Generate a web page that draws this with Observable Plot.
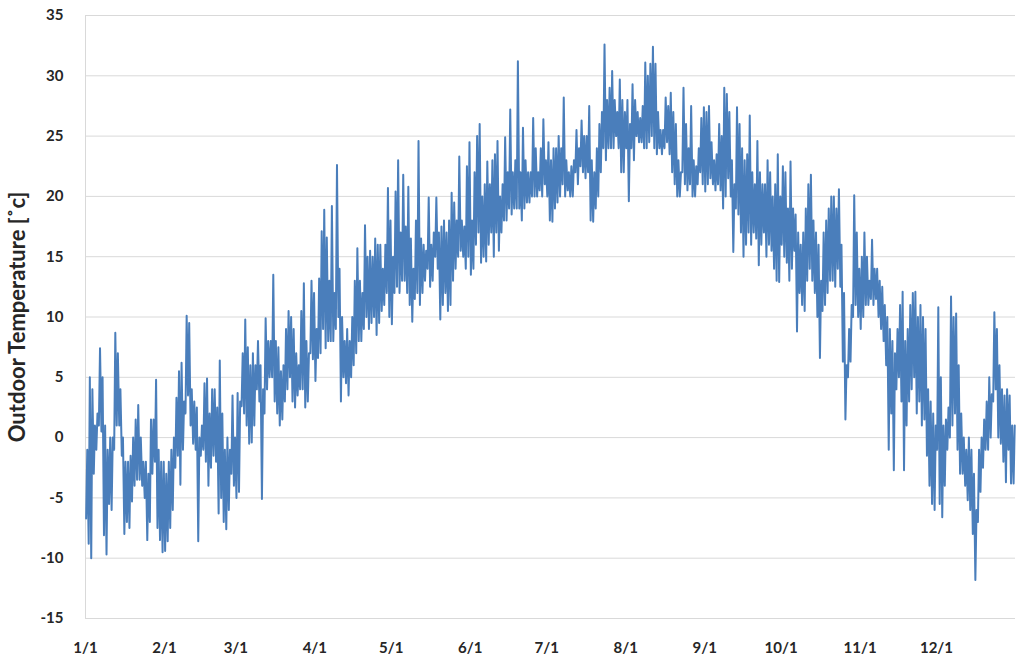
<!DOCTYPE html>
<html>
<head>
<meta charset="utf-8">
<script src="https://cdn.jsdelivr.net/npm/d3@7"></script>
<script src="https://cdn.jsdelivr.net/npm/@observablehq/plot@0.6"></script>
<style>
  html, body { margin: 0; padding: 0; background: #fff; }
  #chart svg { display: block; }
</style>
</head>
<body>
<div id="chart"></div>
<script>
const year = 2013;
const monthLabels = ["1/1","2/1","3/1","4/1","5/1","6/1","7/1","8/1","9/1","10/1","11/1","12/1"];
const yTicks = [-15,-10,-5,0,5,10,15,20,25,30,35];
const yLabel = "Outdoor Temperature [˚c]";

// Daily minimum temperatures (°C)
const dailyLow = [
  /* Jan */ -6.7,-8.8,-10,-3,-1,1,0.5,-8.1,-9.7,-5.5,-6,-1,1,1,-1.5,-8,-7,-7.5,-5.3,-4,-3.5,-3.5,-4,-5,-8.5,-7,-3,-2,-7.5,-8.5,-9.5,
  /* Feb */ -9.4,-8.6,-7.5,-6,-2.5,-1.5,-3.9,-1,2,3.5,1,-0.5,-1,-8.6,-1.5,-1,-2,-4,-2.5,-1.5,-2,-6.3,-5,-7,-7.6,-6,-3,-4,
  /* Mar */ -5,-4.5,2.6,2,1,-0.5,-0.4,1,4,3,-5.1,2,4,5,5,3,2,1,1.5,3,4,5,3,2.5,3.5,4,4,2.5,3,7,6.5,
  /* Apr */ 4.7,6.6,7,9,7.4,8,8,8,9,10,3,5,4.5,3.5,5,6,7,8,8,9,10,9,9.5,10,8.5,9.5,10.5,11,12,10,
  /* May */ 9.4,12,12.5,12,13,13,12,11,9.6,11.5,12,11,12,13,14,12.5,13,15,14,9.8,11,12,10.5,11,13,14,15,15.5,15,14,15,
  /* Jun */ 13.5,14,16,17,14.5,15,14.6,16,17,15,17,15.5,17,18,18,19,18.5,19,19,19,18,19,19.5,19.5,20,20,20,20.5,20,21,
  /* Jul */ 20,18,17.9,19,19.5,20,21,20,20.5,20,20,22,21,22.5,22,21.5,22,18,17.9,19,20,22,24,23,24,24,24,25,24,22,22,
  /* Aug */ 24,19.6,24,23,25,24.5,24.5,24,24,24.5,25,24,23.5,24,23.5,24,24.5,23.5,22,21,20,20,22,21,20.5,21,20,20,21,22,21,
  /* Sep */ 20.4,21,21.5,21,20.5,21,20.5,19,20,21.5,20,15.4,19,18.5,17,15,16,17,16,17,16.5,14.3,16,17,15,16,15.5,14,13,12.9,
  /* Oct */ 16,15,14.5,13,14,15.5,8.8,12,11,10.5,13,14,13,12,10,6.6,10.5,11,12,13,13,12.5,14,12.5,6.3,1.5,5,6.3,10,11,10,
  /* Nov */ 9,10,11,11,11.5,11,11.5,10,9,8,6,-1,2,-2.7,4,5,3,-2.7,1,3,4,5,2,3,1,1.5,-1.5,-4,-5.5,-6,
  /* Dec */ -1,-5.5,-6.6,-4,-1,0,1,2,-1,-3,-3,-4,-5.2,-6,-8,-11.8,-7,-4.5,-2.5,-1,-1,0,3,4,0,-0.5,-2,-3.7,-1,-3.8,-3.8
];

// Daily maximum temperatures (°C)
const dailyHigh = [
  /* Jan */ -1,5,4,1,2,7.4,5,1,-1,0,0,8.7,7,4,0,-2,-2,-1.5,0,1.5,2.7,0,-2,-2,-3,1.5,1.5,4.8,-1,-2,-2,
  /* Feb */ -3,-2,-1,0,3.3,5.5,6.2,3,10.1,9.5,4,3,2.5,0,1,4.5,4.9,2,4,4,2.5,6.4,2,-1,0,-1,3.5,0,
  /* Mar */ 3.7,3,7,9.8,7.5,6,7,6,8,6,4,9.9,8,8,13.5,8,7.5,5.5,6,9,10.5,10,9,7,6,10.5,12.8,8,7,13,12,
  /* Apr */ 9,13.2,17.1,18.9,16.6,13,19.2,12,22.6,14,10,8,9,8,10,13,15.7,13,12,17.6,15,15.5,15,16.5,16,16,14,16,20.7,18,
  /* May */ 15,20.4,23,17,21.8,17.5,20.8,16.5,14,18,24.6,16.5,16,15.5,19.9,16,17,19.9,17,17.5,18,17,18,20.3,19.5,18,23.3,18,17.5,22.5,24.5,
  /* Jun */ 18,22,25,26,20,21,22.9,21,23,23.5,24.6,20,21,24.9,22,27.2,22,23,31.2,22,25.7,23,22,22,26.5,24,22,24,26.4,23,
  /* Jul */ 24.5,23,24,24,25,24,28.2,23,22,22.5,23,25.5,24,26.3,25,25,27.5,23,22,24,26,27,32.6,28,29,30.4,28,27,29.7,28,27,
  /* Aug */ 28,26,29.3,28,27,26.5,27.5,31.1,30,31,32.4,31,27,25.5,25.5,28.2,27.5,28.6,27,26,23,22,29,26,24,27.5,23,22.5,24,26.5,27.4,
  /* Sep */ 27,27.5,24.5,23,23.5,26,25,29,28.5,27,23,21,27.4,26,24,23,23.5,26.7,22,21,24.6,22,21,21,23,22,20,21,23.5,20,
  /* Oct */ 22.5,22,19,22.9,19,18.5,17,16,17,19,21,21.8,18,17,16,13,17,18,19,20,20,19,20.6,16,12,6,9,11,20.1,17,14,
  /* Nov */ 15,17,15,13,16.4,14,14,13,12.5,11,10,9,8,7,9,11,12.1,8,9,11,12,12.1,10,11,10,9,4,3,2,1,
  /* Dec */ 10.8,5,1,1.5,2.5,11.7,10,10.3,6,2,0,-1,0,-1,-3,-6,-1,0,1.5,3,5,3.6,10.4,9,6,4,3.5,4,3.5,1,1
];

const DAY = 864e5;
const t0 = Date.UTC(year, 0, 1);
const rows = [];
dailyLow.forEach((lo, i) => {
  rows.push({ t: new Date(t0 + (i + 0.25) * DAY), v: lo });
  rows.push({ t: new Date(t0 + (i + 0.7) * DAY), v: dailyHigh[i] });
});
const monthStarts = monthLabels.map((_, m) => new Date(Date.UTC(year, m, 1)));

const chart = Plot.plot({
  width: 1024,
  height: 665,
  marginTop: 15,
  marginBottom: 47,
  marginLeft: 85,
  marginRight: 9,
  style: { fontFamily: "Lato, 'Open Sans', sans-serif", fontWeight: "bold", background: "#fff", color: "#262626" },
  x: { type: "utc", domain: [new Date(t0), new Date(Date.UTC(year + 1, 0, 1))] },
  y: { domain: [-15, 35] },
  marks: [
    Plot.gridY(yTicks, { stroke: "#d9d9d9", strokeOpacity: 1, strokeWidth: 1 }),
    Plot.ruleX([new Date(t0)], { stroke: "#d9d9d9", strokeWidth: 1 }),
    Plot.lineY(rows, { x: "t", y: "v", stroke: "#4a7ebb", strokeWidth: 2 }),
    Plot.axisY(yTicks, {
      tickSize: 0, tickPadding: 22, fill: "#262626", fontSize: 15, fontWeight: "bold",
      tickFormat: d => String(d), label: null
    }),
    Plot.text([yLabel], {
      frameAnchor: "left", textAnchor: "middle", rotate: -90, dx: -68,
      fontSize: 22, fontWeight: "bold", fill: "#262626"
    }),
    Plot.axisX(monthStarts, {
      tickSize: 0, tickPadding: 24, fill: "#262626", fontSize: 15, fontWeight: "bold",
      tickFormat: d => monthLabels[d.getUTCMonth()], label: null
    })
  ]
});
document.getElementById("chart").appendChild(chart);
</script>
</body>
</html>
